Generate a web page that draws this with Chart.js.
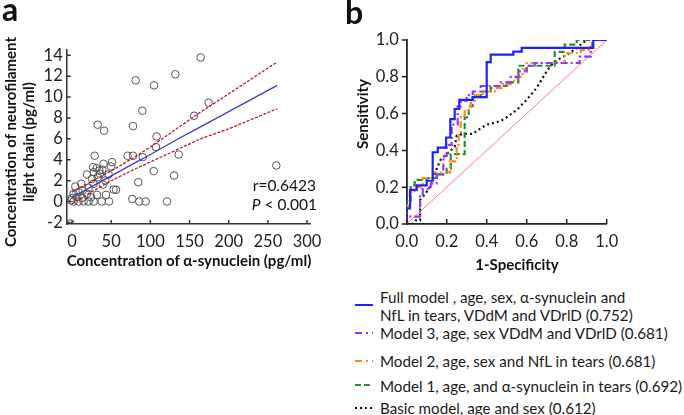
<!DOCTYPE html>
<html><head><meta charset="utf-8">
<script src="https://cdn.jsdelivr.net/npm/chart.js@4.4.1/dist/chart.umd.min.js"></script>
<style>
html,body{margin:0;padding:0;background:#fff;}
#wrap{position:relative;width:684px;height:415px;overflow:hidden;background:#fff;font-family:Lato,"Open Sans",sans-serif;color:#111;}
canvas{position:absolute;}
.t{position:absolute;white-space:nowrap;height:20px;line-height:20px;}
.b{font-weight:bold;font-size:15px;}
.c{transform:translateX(-50%);}
.rot{position:absolute;white-space:nowrap;text-align:center;font-weight:bold;font-size:15px;line-height:18px;transform:translate(-50%,-50%) rotate(-90deg);}
.lg{position:absolute;white-space:nowrap;font-size:15.2px;height:20px;line-height:20px;left:380px;color:#1a1a1a;}
svg{position:absolute;}
</style></head>
<body><div id="wrap">
<canvas id="ca" width="330" height="280" style="left:0;top:0"></canvas>
<canvas id="cb" width="344" height="280" style="left:340px;top:0"></canvas>

<div class="t" style="left:2px;top:-1px;font-weight:bold;font-size:32px;">a</div>
<div class="t" style="left:345px;top:2px;font-weight:bold;font-size:32px;">b</div>

<div class="rot" style="left:19px;top:142px;">Concentration of neurofilament<br>light chain (pg/ml)</div>
<div class="t b c" style="left:189px;top:250px;">Concentration of α-synuclein (pg/ml)</div>
<div class="t" style="right:368px;top:175px;font-size:15.5px;">r=0.6423</div>
<div class="t" style="right:367px;top:194px;font-size:15.5px;"><i>P</i> &lt; 0.001</div>

<div class="rot" style="left:362px;top:114px;">Sensitivity</div>
<div class="t b c" style="left:517px;top:254px;">1-Specificity</div>

<svg width="20" height="6" style="left:354px;top:302px"><line x1="1" y1="3" x2="19" y2="3" stroke="#1f1fff" stroke-width="2"/></svg>
<svg width="20" height="6" style="left:354px;top:330px"><line x1="1" y1="3" x2="19" y2="3" stroke="#9a33ff" stroke-width="2" stroke-dasharray="7,4,2,4"/></svg>
<svg width="20" height="6" style="left:354px;top:358px"><line x1="1" y1="3" x2="19" y2="3" stroke="#ff8a1a" stroke-width="2" stroke-dasharray="7,4,2,4"/></svg>
<svg width="20" height="6" style="left:354px;top:382px"><line x1="1" y1="3" x2="19" y2="3" stroke="#2a8a3e" stroke-width="2" stroke-dasharray="6,3"/></svg>
<svg width="20" height="6" style="left:354px;top:405px"><line x1="1" y1="3" x2="19" y2="3" stroke="#111" stroke-width="2" stroke-dasharray="2,3"/></svg>

<div class="lg" style="top:287px;">Full model , age, sex, α-synuclein and</div>
<div class="lg" style="top:305px;">NfL in tears, VDdM and VDrlD (0.752)</div>
<div class="lg" style="top:323px;">Model 3, age, sex VDdM and VDrlD (0.681)</div>
<div class="lg" style="top:351px;">Model 2, age, sex and NfL in tears (0.681)</div>
<div class="lg" style="top:376px;">Model 1, age, and α-synuclein in tears (0.692)</div>
<div class="lg" style="top:398px;">Basic model, age and sex (0.612)</div>
</div>
<script>
// ---------- Panel a data ----------
const synX = [164.2,131.9,81.2,104.7,174.4,89.7,155.7,32.7,77.9,40.9,108,107.2,71,77.9,90.2,136.1,28.9,104.2,130.2,84.6,260.8,77,85.9,94,121.3,-2,
  19.1,26.8,31.4,34.9,40.3,51.1,49.8,38.7,27.6,35.7,46.7,25.5,32.7,42.5,11.9,4.2,13.5,21.2,27.6,39.6,53.1,56.2,2,8.4,19.1,31.9,43.4,0,5.5,12.8,24.3,-1.3,2,8.4,14.7,21.2,27.6,37.9,47.3];
const nflY = [13.78,12.18,11.6,11.12,9.46,8.69,8.21,7.35,7.22,6.78,6.23,5.21,4.38,4.38,4.25,4.5,4.38,2.91,2.49,1.85,3.45,0.25,0,0,0,-2.1,
  2.59,3.29,3.19,2.97,3.61,3.77,3.36,3.04,2.81,2.66,2.59,2.18,2.33,2.01,1.7,1.44,1.05,1.31,1.7,1.63,1.15,1.12,0.74,0.89,0.74,0.64,0.64,0.35,0.41,0.35,0.41,0.1,0,0,0,0,0,0,0];
const fitX   = [0, 25, 50, 75, 100, 138, 164, 200, 262];
const fitY   = [0.41, 1.43, 2.46, 3.48, 4.5, 6.1, 7.15, 8.6, 11.12];
const upperY = [0.9, 1.93, 2.93, 4.03, 5.22, 7.2, 8.56, 10.3, 13.36];
const lowerY = [-0.22, 0.93, 1.99, 2.93, 3.78, 5.1, 6.0, 6.95, 8.89];
const xTicksA = [0, 50, 100, 150, 200, 250, 300];
const yTicksA = [-2, 0, 2, 4, 6, 8, 10, 12, 14];

// ---------- Panel b data ----------
const fullX   = [0, 0, 0.017, 0.05, 0.1, 0.13, 0.155, 0.197, 0.218, 0.24, 0.263, 0.33, 0.4, 0.42, 0.533, 0.575, 0.933, 1];
const fullY   = [0, 0.085, 0.185, 0.21, 0.235, 0.39, 0.415, 0.47, 0.57, 0.625, 0.675, 0.69, 0.88, 0.92, 0.937, 0.957, 1.0, 1.0];
const m3X     = [0, 0, 0.067, 0.08, 0.12, 0.15, 0.183, 0.2, 0.225, 0.255, 0.27, 0.3, 0.33, 0.37, 0.47, 0.52, 0.56, 0.6, 0.64, 0.865, 0.92, 0.93, 1];
const m3Y     = [0, 0.04, 0.15, 0.19, 0.22, 0.27, 0.37, 0.43, 0.54, 0.64, 0.67, 0.7, 0.72, 0.75, 0.77, 0.8, 0.83, 0.86, 0.875, 0.91, 0.96, 1.0, 1.0];
const m2X     = [0, 0, 0.015, 0.04, 0.08, 0.13, 0.217, 0.25, 0.26, 0.27, 0.29, 0.32, 0.34, 0.38, 0.44, 0.48, 0.52, 0.55, 0.58, 0.6, 0.79, 0.87, 0.925, 1];
const m2Y     = [0, 0.1, 0.17, 0.2, 0.25, 0.28, 0.34, 0.42, 0.5, 0.58, 0.62, 0.66, 0.7, 0.72, 0.74, 0.76, 0.78, 0.8, 0.84, 0.875, 0.928, 0.945, 1.0, 1.0];
const m1X     = [0, 0, 0.02, 0.04, 0.1, 0.15, 0.2, 0.22, 0.29, 0.31, 0.33, 0.37, 0.42, 0.44, 0.5, 0.558, 0.74, 0.79, 0.85, 1];
const m1Y     = [0, 0.13, 0.21, 0.24, 0.25, 0.27, 0.3, 0.38, 0.58, 0.64, 0.69, 0.72, 0.74, 0.75, 0.77, 0.86, 0.935, 0.975, 1.0, 1.0];
const basicX  = [0, 0.03, 0.045, 0.067, 0.067, 0.09, 0.11, 0.13, 0.15, 0.17, 0.2, 0.22, 0.24, 0.25, 0.28, 0.33, 0.37, 0.4, 0.44, 0.47, 0.5, 0.55, 0.6, 0.65, 0.7, 0.72, 0.75, 0.8, 0.85, 0.875, 0.9, 1];
const basicY  = [0, 0, 0.02, 0.02, 0.13, 0.16, 0.19, 0.23, 0.3, 0.35, 0.38, 0.4, 0.42, 0.48, 0.49, 0.49, 0.52, 0.54, 0.55, 0.56, 0.58, 0.62, 0.675, 0.74, 0.83, 0.86, 0.89, 0.92, 0.955, 0.98, 1.0, 1.0];
const diagX   = [0, 1];
const diagY   = [0, 1];
const ticksB  = [0, 0.2, 0.4, 0.6, 0.8, 1.0];

const pts = (xs, ys) => xs.map((x, i) => ({x, y: ys[i]}));

const tickMarks = {
  id: 'tickMarks',
  afterDatasetsDraw(chart, args, o) {
    const ctx = chart.ctx, xs = chart.scales.x, ys = chart.scales.y, a = chart.chartArea;
    ctx.save();
    ctx.strokeStyle = o.color; ctx.lineWidth = o.width;
    ctx.beginPath();
    xs.ticks.forEach(t => { const p = xs.getPixelForValue(t.value); ctx.moveTo(p, a.bottom); ctx.lineTo(p, a.bottom - o.xLen); });
    ys.ticks.forEach(t => { const p = ys.getPixelForValue(t.value); ctx.moveTo(a.left, p); ctx.lineTo(a.left + o.yLen, p); });
    ctx.stroke();
    ctx.restore();
  }
};

const tickFont = {family: 'Lato, "Open Sans", sans-serif', size: 16.5};

new Chart(document.getElementById('ca'), {
  type: 'scatter',
  data: { datasets: [
    {data: pts(fitX, fitY), showLine: true, pointRadius: 0, borderColor: '#3b3bd6', borderWidth: 1.3, fill: false},
    {data: pts(fitX, upperY), showLine: true, pointRadius: 0, borderColor: '#b5202a', borderWidth: 1.3, borderDash: [3, 1.5], fill: false},
    {data: pts(fitX, lowerY), showLine: true, pointRadius: 0, borderColor: '#b5202a', borderWidth: 1.3, borderDash: [3, 1.5], fill: false},
    {data: pts(synX, nflY), pointRadius: 3.8, borderColor: '#555', borderWidth: 1, backgroundColor: 'rgba(255,255,255,0)'}
  ]},
  options: {
    responsive: false, animation: false,
    layout: {padding: {top: 50, right: 20, left: 0, bottom: 0}},
    plugins: {legend: {display: false}, tooltip: {enabled: false},
      tickMarks: {color: '#333', width: 1.5, xLen: 4, yLen: 4}},
    scales: {
      x: {type: 'linear', min: -6.8, max: 303.8,
        afterBuildTicks: s => { s.ticks = xTicksA.map(v => ({value: v})); },
        afterFit: s => { s.height = 56; },
        grid: {display: false, drawTicks: false},
        border: {display: true, color: '#333', width: 1.5},
        ticks: {font: tickFont, color: '#222', padding: 8, maxRotation: 0, autoSkip: false}},
      y: {type: 'linear', min: -2.15, max: 14.5,
        afterBuildTicks: s => { s.ticks = yTicksA.map(v => ({value: v})); },
        afterFit: s => { s.width = 66.7; },
        grid: {display: false, drawTicks: false},
        border: {display: true, color: '#333', width: 1.5},
        ticks: {font: tickFont, color: '#222', padding: 4, autoSkip: false}}
    }
  },
  plugins: [tickMarks]
});

const line = (xs, ys, color, w, dash) => ({
  data: pts(xs, ys), showLine: true, pointRadius: 0, borderColor: color, borderWidth: w,
  borderDash: dash, fill: false
});

new Chart(document.getElementById('cb'), {
  type: 'scatter',
  data: { datasets: [
    Object.assign(line(fullX, fullY, '#1f1fff', 2.2, []), {stepped: 'before'}),
    Object.assign(line(m3X, m3Y, '#9a33ff', 2.2, [7, 3, 2, 3]), {stepped: 'before'}),
    Object.assign(line(m2X, m2Y, '#ff8a1a', 2.2, [7, 3, 2, 3]), {stepped: 'before'}),
    Object.assign(line(m1X, m1Y, '#2a8a3e', 2.2, [6, 3]), {stepped: 'before'}),
    line(basicX, basicY, '#111', 2.2, [2, 3]),
    line(diagX, diagY, '#ff6f6f', 0.9, [])
  ]},
  options: {
    responsive: false, animation: false,
    layout: {padding: {top: 40, right: 77.3, left: 0, bottom: 0}},
    plugins: {legend: {display: false}, tooltip: {enabled: false},
      tickMarks: {color: '#222', width: 1.5, xLen: 5, yLen: -5}},
    scales: {
      x: {type: 'linear', min: 0, max: 1,
        afterBuildTicks: s => { s.ticks = ticksB.map(v => ({value: v})); },
        afterFit: s => { s.height = 56; },
        grid: {display: false, drawTicks: false},
        border: {display: true, color: '#222', width: 1.8},
        ticks: {font: tickFont, color: '#222', padding: 8, maxRotation: 0, autoSkip: false, callback: v => Number(v).toFixed(1)}},
      y: {type: 'linear', min: 0, max: 1,
        afterBuildTicks: s => { s.ticks = ticksB.map(v => ({value: v})); },
        afterFit: s => { s.width = 66.7; },
        grid: {display: false, drawTicks: false},
        border: {display: true, color: '#222', width: 1.8},
        ticks: {font: tickFont, color: '#222', padding: 8, autoSkip: false, callback: v => Number(v).toFixed(1)}}
    }
  },
  plugins: [tickMarks]
});
</script>
</body></html>
